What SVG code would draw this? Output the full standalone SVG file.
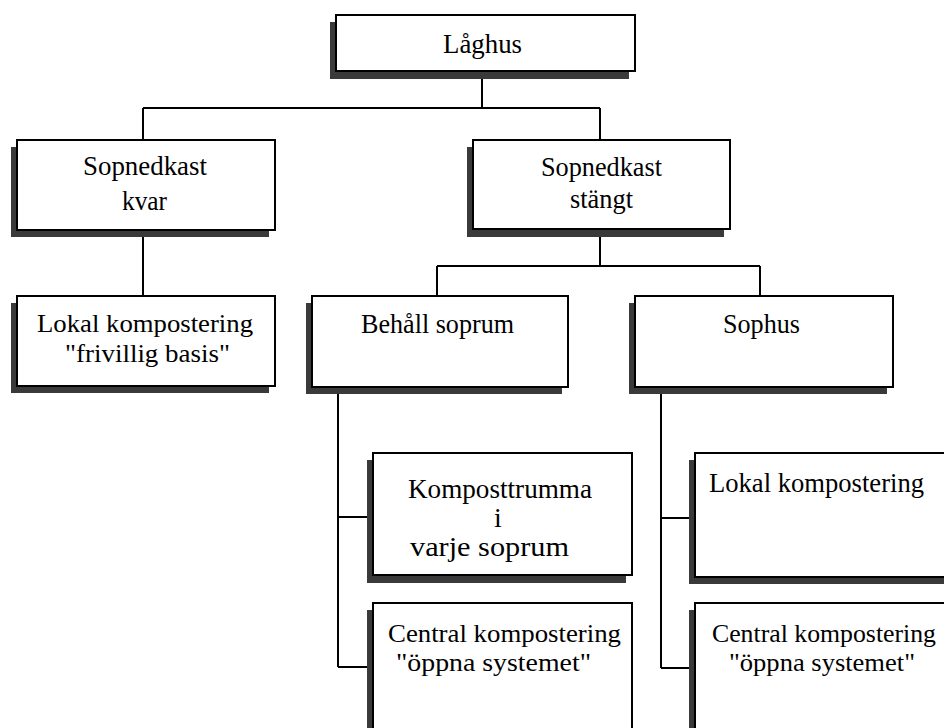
<svg xmlns="http://www.w3.org/2000/svg" width="944" height="728" viewBox="0 0 944 728">
<defs>
<style>
.bg{fill:#ffffff}
.sh{fill:#3a3a3a}
.bx{fill:#ffffff;stroke:#000;stroke-width:2}
.t{font-family:"Liberation Serif","Times New Roman",serif;font-size:28px;fill:#000}
.s{font-size:26px}
.c{fill:none;stroke:#000;stroke-width:2}
</style>
</defs>
<rect class="bg" x="0" y="0" width="944" height="728"/>
<g id="connectors">
<path class="c" d="M482 79V108M143 108H600M143 108V140M600 108V140"/>
<path class="c" d="M143 230V296"/>
<path class="c" d="M600 229V266M437 266H760M437 266V296M760 266V296"/>
<path class="c" d="M338 387V667M338 517H373M338 667H373"/>
<path class="c" d="M661 387V668M661 518H695M661 668H695"/>
</g>
<g id="n-laghus">
<rect class="sh" x="330" y="22" width="299" height="57"/>
<rect class="bx" x="336" y="15" width="299" height="56"/>
<text class="t" x="443" y="53" textLength="79" lengthAdjust="spacingAndGlyphs">Låghus</text>
</g>
<g id="n-kvar">
<rect class="sh" x="11" y="147" width="258" height="90"/>
<rect class="bx" x="17" y="140" width="258" height="90"/>
<text class="t" x="83" y="175" textLength="124" lengthAdjust="spacingAndGlyphs">Sopnedkast</text>
<text class="t" x="122" y="210" textLength="45" lengthAdjust="spacingAndGlyphs">kvar</text>
</g>
<g id="n-stangt">
<rect class="sh" x="467" y="147" width="257" height="90"/>
<rect class="bx" x="473" y="140" width="257" height="89"/>
<text class="t" x="541" y="176" textLength="121" lengthAdjust="spacingAndGlyphs">Sopnedkast</text>
<text class="t" x="570" y="208" textLength="63" lengthAdjust="spacingAndGlyphs">stängt</text>
</g>
<g id="n-frivillig">
<rect class="sh" x="11" y="303" width="258" height="90"/>
<rect class="bx" x="17" y="296" width="258" height="90"/>
<text class="t s" x="37" y="332" textLength="216" lengthAdjust="spacingAndGlyphs">Lokal kompostering</text>
<text class="t s" x="65" y="362" textLength="165" lengthAdjust="spacingAndGlyphs">"frivillig basis"</text>
</g>
<g id="n-behall">
<rect class="sh" x="306" y="303" width="256" height="91"/>
<rect class="bx" x="312" y="296" width="256" height="91"/>
<text class="t" x="361" y="333" textLength="153" lengthAdjust="spacingAndGlyphs">Behåll soprum</text>
</g>
<g id="n-sophus">
<rect class="sh" x="629" y="303" width="258" height="91"/>
<rect class="bx" x="635" y="296" width="258" height="91"/>
<text class="t" x="723" y="333" textLength="77" lengthAdjust="spacingAndGlyphs">Sophus</text>
</g>
<g id="n-trumma">
<rect class="sh" x="367" y="460" width="259" height="123"/>
<rect class="bx" x="373" y="453" width="259" height="122"/>
<text class="t" x="408" y="498" textLength="184" lengthAdjust="spacingAndGlyphs">Komposttrumma</text>
<text class="t" x="498" y="527" text-anchor="middle">i</text>
<text class="t" x="410" y="556" textLength="159" lengthAdjust="spacingAndGlyphs">varje soprum</text>
</g>
<g id="n-central-left">
<rect class="sh" x="367" y="610" width="259" height="140"/>
<rect class="bx" x="373" y="603" width="259" height="140"/>
<text class="t s" x="388" y="642" textLength="233" lengthAdjust="spacingAndGlyphs">Central kompostering</text>
<text class="t s" x="396" y="671" textLength="195" lengthAdjust="spacingAndGlyphs">"öppna systemet"</text>
</g>
<g id="n-lokal-right">
<rect class="sh" x="689" y="460" width="270" height="124"/>
<rect class="bx" x="695" y="453" width="270" height="124"/>
<text class="t" x="709" y="492" textLength="215" lengthAdjust="spacingAndGlyphs">Lokal kompostering</text>
</g>
<g id="n-central-right">
<rect class="sh" x="689" y="610" width="270" height="140"/>
<rect class="bx" x="695" y="603" width="270" height="140"/>
<text class="t s" x="712" y="642" textLength="224" lengthAdjust="spacingAndGlyphs">Central kompostering</text>
<text class="t s" x="729" y="671" textLength="186" lengthAdjust="spacingAndGlyphs">"öppna systemet"</text>
</g>
</svg>
